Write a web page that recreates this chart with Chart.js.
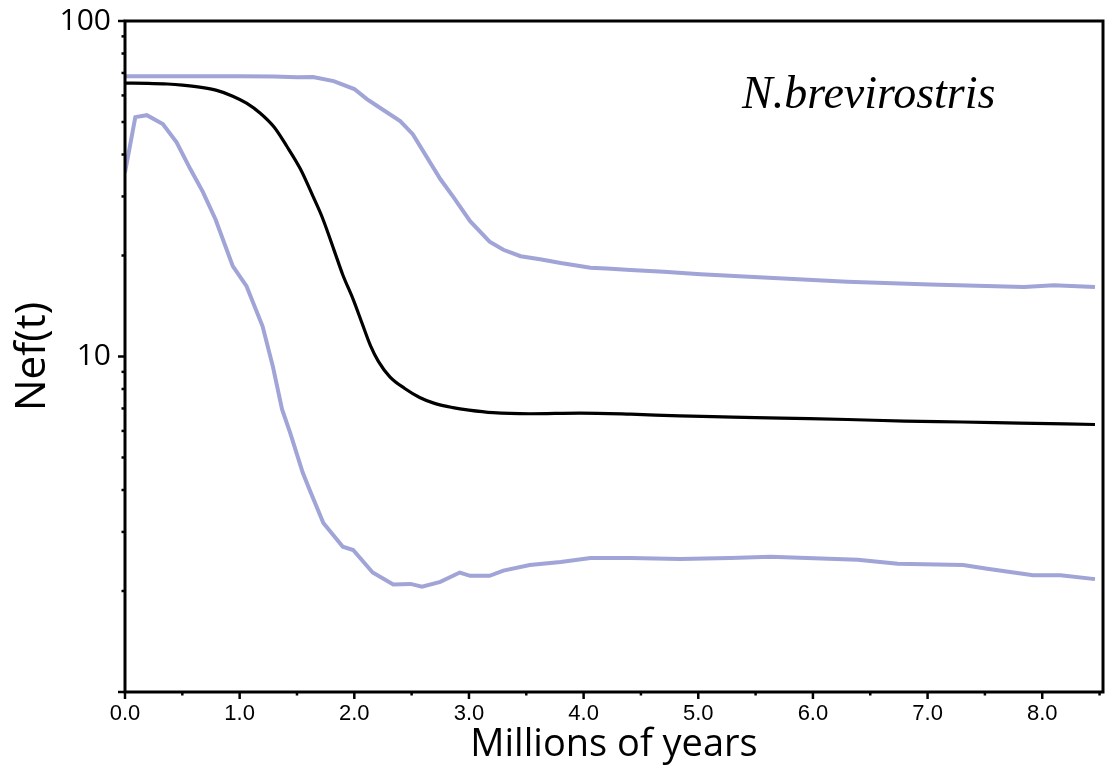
<!DOCTYPE html>
<html>
<head>
<meta charset="utf-8">
<script src="https://cdn.jsdelivr.net/npm/chart.js@4/dist/chart.umd.min.js"></script>
<style>
  html, body { margin: 0; padding: 0; background: #ffffff; }
  #wrap { width: 1106px; height: 773px; }
</style>
</head>
<body>
<div id="wrap"><canvas id="c" width="1106" height="773"></canvas></div>
<script>
// ---- data (x in millions of years, y = Nef(t)) ----
const medianX = [0.00, 0.20, 0.37, 0.50, 0.65, 0.80, 0.94, 1.06, 1.18, 1.30, 1.41, 1.53, 1.64, 1.72, 1.82, 1.90, 1.99, 2.07, 2.14, 2.21, 2.31, 2.44, 2.57, 2.70, 2.86, 3.00, 3.21, 3.53, 3.97, 4.41, 4.84, 5.30, 5.72, 6.30, 6.80, 7.30, 7.80, 8.46];
const medianY = [65.3, 65.2, 64.9, 64.4, 63.5, 62.1, 59.7, 56.9, 53.1, 48.3, 42.4, 36.2, 30.0, 26.0, 20.9, 17.5, 14.8, 12.5, 10.8, 9.67, 8.7, 8.03, 7.55, 7.25, 7.04, 6.92, 6.80, 6.75, 6.78, 6.73, 6.65, 6.60, 6.55, 6.49, 6.42, 6.38, 6.33, 6.27];

const upperX = [0.00, 0.50, 1.00, 1.30, 1.50, 1.64, 1.82, 2.00, 2.11, 2.20, 2.40, 2.51, 2.75, 2.86, 3.01, 3.18, 3.30, 3.45, 3.62, 3.80, 4.06, 4.20, 4.41, 4.70, 5.02, 5.57, 6.30, 7.02, 7.84, 8.10, 8.46];
const upperY = [68.5, 68.5, 68.4, 68.3, 68.0, 68.1, 66.2, 62.7, 58.5, 55.8, 50.3, 46.0, 33.8, 30.0, 25.3, 22.0, 20.8, 19.9, 19.5, 19.0, 18.4, 18.3, 18.1, 17.9, 17.6, 17.2, 16.7, 16.4, 16.1, 16.3, 16.1];

const lowerX = [0.00, 0.09, 0.19, 0.33, 0.45, 0.57, 0.68, 0.79, 0.94, 1.06, 1.20, 1.29, 1.37, 1.44, 1.55, 1.61, 1.73, 1.90, 1.99, 2.16, 2.34, 2.49, 2.59, 2.75, 2.92, 3.01, 3.18, 3.30, 3.53, 3.80, 4.06, 4.41, 4.84, 5.28, 5.63, 6.39, 6.74, 7.31, 7.52, 7.92, 8.16, 8.46];
const lowerY = [35.4, 51.7, 52.4, 49.3, 43.5, 36.2, 30.9, 25.6, 18.6, 16.2, 12.3, 9.33, 6.95, 5.93, 4.51, 4.01, 3.19, 2.71, 2.65, 2.27, 2.09, 2.10, 2.06, 2.13, 2.27, 2.22, 2.22, 2.30, 2.39, 2.44, 2.51, 2.51, 2.49, 2.51, 2.53, 2.48, 2.41, 2.39, 2.33, 2.23, 2.23, 2.17];

const xTickValues = [0, 1, 2, 3, 4, 5, 6, 7, 8];
const xMinorTicks = [0.5, 1.5, 2.5, 3.5, 4.5, 5.5, 6.5, 7.5, 8.5];
const yTickLabels = [10, 100];
const yMajorTicks = [1, 10, 100];
const yMinorTicks = [2, 3, 4, 5, 6, 7, 8, 9, 20, 30, 40, 50, 60, 70, 80, 90];

const speciesLabel = 'N.brevirostris';
const xTitle = 'Millions of years';
const yTitle = 'Nef(t)';

const BLUE = '#a0a4d6';

function pts(xs, ys) { return xs.map((x, i) => ({ x: x, y: ys[i] })); }

const framePlugin = {
  id: 'frameAndTicks',
  afterDraw(chart) {
    const ctx = chart.ctx;
    const a = chart.chartArea;
    const xs = chart.scales.x, ys = chart.scales.y;
    ctx.save();
    ctx.strokeStyle = '#000';
    ctx.lineCap = 'butt';
    // frame
    ctx.lineWidth = 3;
    ctx.strokeRect(a.left, a.top, a.right - a.left, a.bottom - a.top);
    // y ticks
    ctx.lineWidth = 2.5;
    yMajorTicks.forEach(v => {
      const y = ys.getPixelForValue(v);
      ctx.beginPath(); ctx.moveTo(a.left - 7, y); ctx.lineTo(a.left, y); ctx.stroke();
    });
    yMinorTicks.forEach(v => {
      const y = ys.getPixelForValue(v);
      ctx.beginPath(); ctx.moveTo(a.left - 3.5, y); ctx.lineTo(a.left, y); ctx.stroke();
    });
    // x ticks
    xTickValues.forEach(v => {
      const x = xs.getPixelForValue(v);
      ctx.beginPath(); ctx.moveTo(x, a.bottom); ctx.lineTo(x, a.bottom + 7); ctx.stroke();
    });
    xMinorTicks.forEach(v => {
      const x = xs.getPixelForValue(v);
      ctx.beginPath(); ctx.moveTo(x, a.bottom); ctx.lineTo(x, a.bottom + 3.5); ctx.stroke();
    });
    // species label
    ctx.fillStyle = '#000';
    ctx.font = 'italic 46px "Liberation Serif", "Times New Roman", serif';
    ctx.textBaseline = 'alphabetic';
    ctx.textAlign = 'left';
    ctx.fillText(speciesLabel, 742, 108);
    ctx.restore();
  }
};

new Chart(document.getElementById('c'), {
  type: 'line',
  data: {
    datasets: [
      { label: 'upper', data: pts(upperX, upperY), borderColor: BLUE, borderWidth: 4, pointRadius: 0, tension: 0, fill: false },
      { label: 'lower', data: pts(lowerX, lowerY), borderColor: BLUE, borderWidth: 4, pointRadius: 0, tension: 0, fill: false },
      { label: 'median', data: pts(medianX, medianY), borderColor: '#000000', borderWidth: 3.2, pointRadius: 0, cubicInterpolationMode: 'monotone', fill: false }
    ]
  },
  options: {
    responsive: false,
    animation: false,
    devicePixelRatio: 1,
    layout: { padding: { top: 21, right: 3, left: 0, bottom: 0 } },
    plugins: { legend: { display: false }, tooltip: { enabled: false }, title: { display: false } },
    scales: {
      x: {
        type: 'linear',
        min: 0,
        max: 8.53,
        afterFit: s => { s.height = 81; s.paddingLeft = 0; s.paddingRight = 0; },
        grid: { display: false, drawTicks: false },
        border: { display: false },
        ticks: {
          stepSize: 1,
          includeBounds: false,
          autoSkip: false,
          maxRotation: 0,
          padding: 9,
          color: '#000',
          font: { family: '"Liberation Sans", Arial, sans-serif', size: 22 },
          callback: v => (xTickValues.includes(v) ? v.toFixed(1) : '')
        },
        title: {
          display: true,
          text: xTitle,
          color: '#000',
          font: { family: '"Open Sans", sans-serif', size: 38 },
          padding: { top: 0, bottom: 5 }
        }
      },
      y: {
        type: 'logarithmic',
        min: 1,
        max: 100,
        afterFit: s => { s.width = 125; s.paddingTop = 0; s.paddingBottom = 0; },
        grid: { display: false, drawTicks: false },
        border: { display: false },
        ticks: {
          autoSkip: false,
          padding: 14,
          color: '#000',
          font: { family: '"Open Sans", sans-serif', size: 30 },
          callback: v => (yTickLabels.includes(v) ? String(v) : '')
        },
        title: {
          display: true,
          text: yTitle,
          color: '#000',
          font: { family: '"Open Sans", sans-serif', size: 42 },
          padding: { top: 8, bottom: 0 }
        }
      }
    }
  },
  plugins: [framePlugin]
});
</script>
</body>
</html>
